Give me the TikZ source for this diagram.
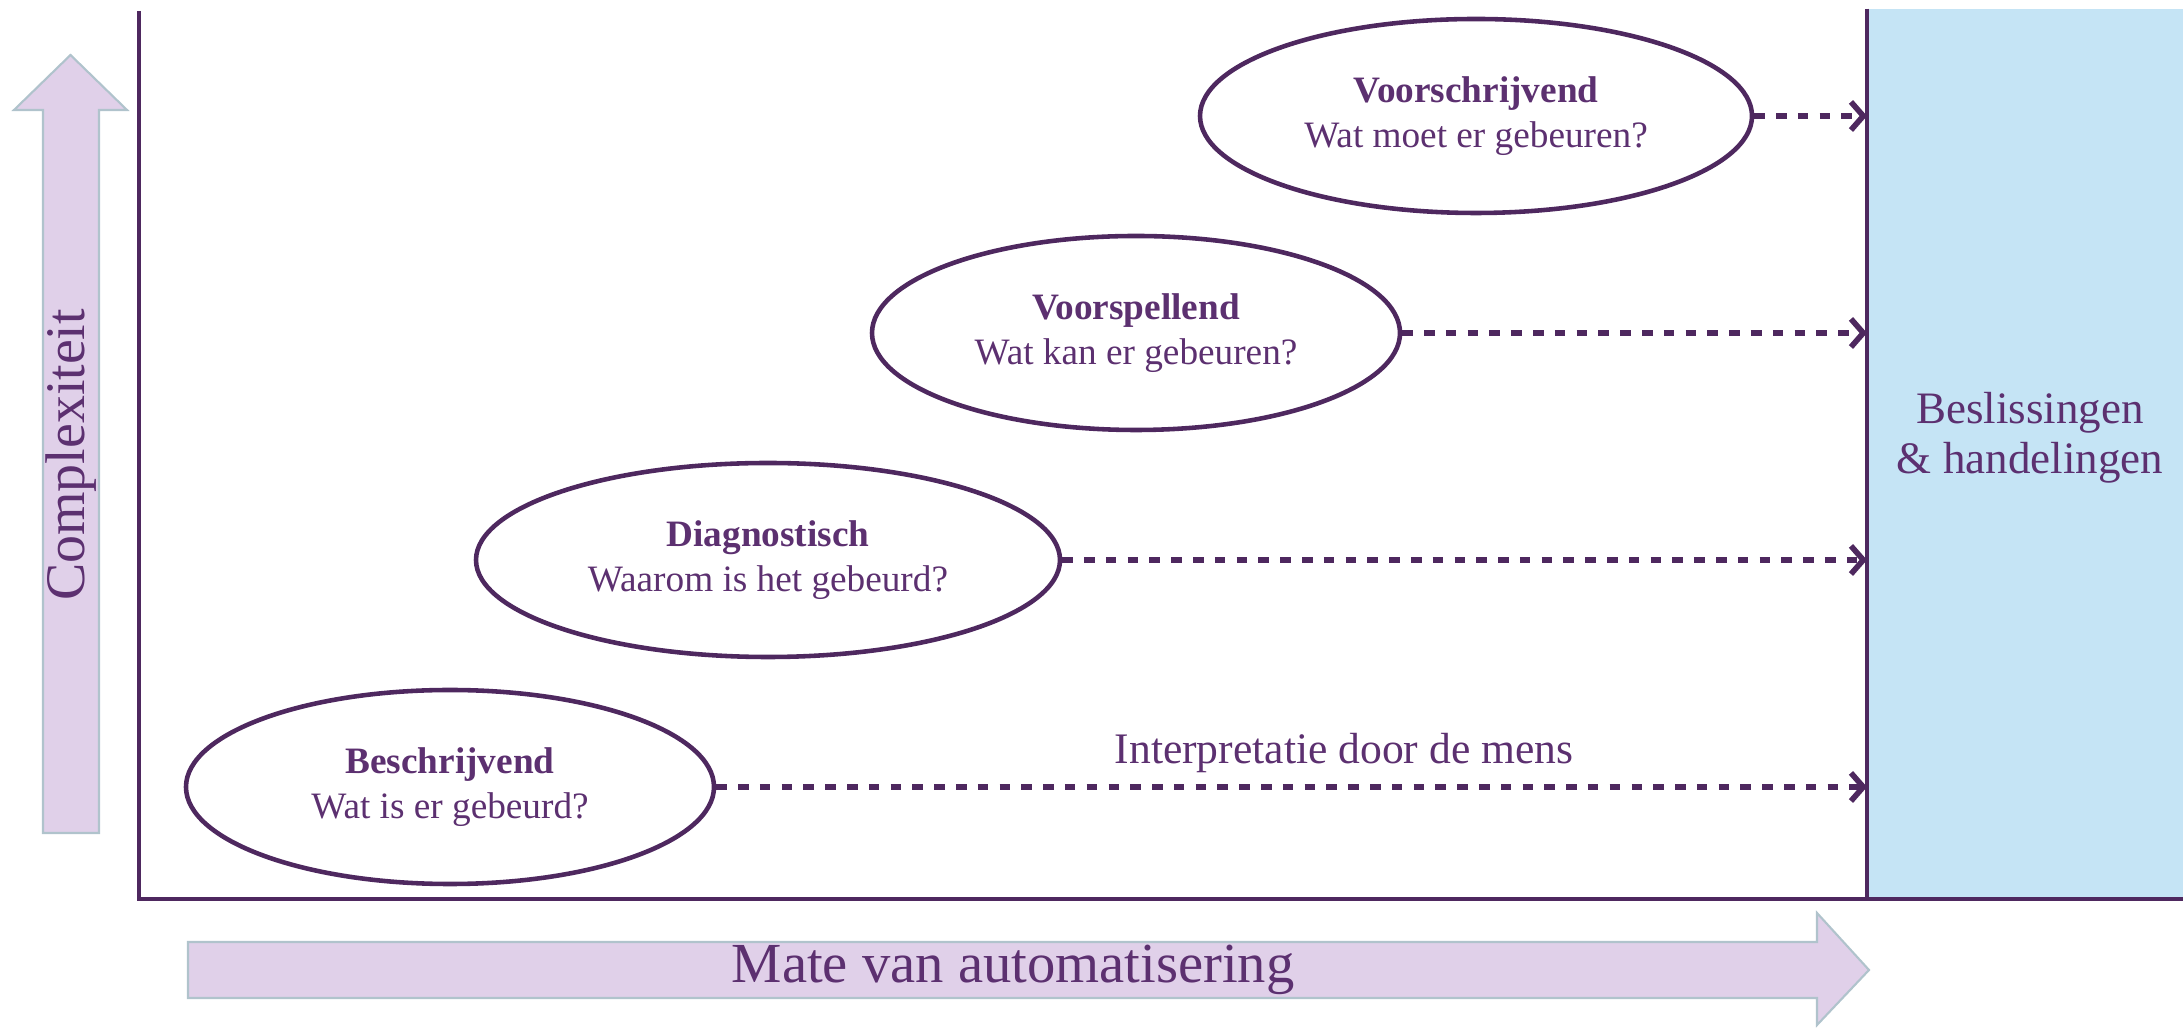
\documentclass[tikz,border=0pt]{standalone}
\usepackage{fontspec}
\setmainfont{Liberation Serif}
\usetikzlibrary{shapes.geometric,arrows.meta}

\definecolor{paars}{HTML}{5C3070}
\definecolor{lijnpaars}{HTML}{4E285F}
\definecolor{lila}{HTML}{E0D0E9}
\definecolor{lilarand}{HTML}{B0C3CC}
\definecolor{lichtblauw}{HTML}{C5E4F5}

\begin{document}
\begin{tikzpicture}[
    fase/.style={ellipse, draw=lijnpaars, line width=1.3pt, inner sep=0pt,
        minimum height=1.94cm, align=center, text=paars,
        font=\fontsize{10.6}{12.8}\selectfont},
    pijl/.style={draw=lijnpaars, line width=1.5pt, dash pattern=on 3pt off 3.2pt,
        -{Straight Barb[length=3.5pt,width=8pt,line width=1.6pt]}},
    as/.style={draw=lijnpaars, line width=0.9pt},
    blokpijl/.style={fill=lila, draw=lilarand, line width=0.6pt},
    label/.style={text=paars, inner sep=0pt}
]
    \useasboundingbox (0,0) rectangle (21.83,10.28);

    % blokpijlen langs de assen
    \draw[blokpijl] (0.43,1.95) -- (0.99,1.95) -- (0.99,9.18) -- (1.27,9.18)
        -- (0.705,9.73) -- (0.14,9.18) -- (0.43,9.18) -- cycle;
    \draw[blokpijl] (1.88,0.86) -- (18.17,0.86) -- (18.17,1.15) -- (18.69,0.58)
        -- (18.17,0.03) -- (18.17,0.30) -- (1.88,0.30) -- cycle;
    \node[label, rotate=90, font=\fontsize{15.9}{18}\selectfont] (complexiteit) at (0.71,5.73) {Complexiteit};
    \node[label, font=\fontsize{16.1}{18}\selectfont] (automatisering) at (10.13,0.58) {Mate van automatisering};

    % beslissingen
    \node[fill=lichtblauw, minimum width=3.16cm, minimum height=8.89cm, inner sep=0pt,
        anchor=south west] (besluit) at (18.67,1.29) {};
    \draw[as, line width=1.2pt] (besluit.north west) -- (besluit.south west);
    \node[label, align=center, font=\fontsize{12.8}{14.2}\selectfont] (besluittekst) at (20.30,5.90)
        {Beslissingen\\ \& handelingen};

    % assen
    \coordinate (oorsprong) at (1.39,1.29);
    \coordinate (ytop) at (1.39,10.17);
    \coordinate (xeind) at (21.83,1.29);
    \draw[as] (ytop) -- (oorsprong) -- (xeind);

    % fasen
    \node[fase, minimum width=5.28cm] (beschrijvend) at (4.50,2.41)
        {\textbf{Beschrijvend}\\ Wat is er gebeurd?};
    \node[fase, minimum width=5.84cm] (diagnostisch) at (7.68,4.68)
        {\textbf{Diagnostisch}\\ Waarom is het gebeurd?};
    \node[fase, minimum width=5.28cm] (voorspellend) at (11.36,6.95)
        {\textbf{Voorspellend}\\ Wat kan er gebeuren?};
    \node[fase, minimum width=5.52cm] (voorschrijvend) at (14.76,9.12)
        {\textbf{Voorschrijvend}\\ Wat moet er gebeuren?};

    \draw[pijl] (beschrijvend.east) -- (beschrijvend.east -| besluit.west);
    \draw[pijl] (diagnostisch.east) -- (diagnostisch.east -| besluit.west);
    \draw[pijl] (voorspellend.east) -- (voorspellend.east -| besluit.west);
    \draw[pijl] (voorschrijvend.east) -- (voorschrijvend.east -| besluit.west);
    \node[label, font=\fontsize{12.4}{14}\selectfont] (interpretatie) at (13.44,2.75)
        {Interpretatie door de mens};
\end{tikzpicture}
\end{document}
